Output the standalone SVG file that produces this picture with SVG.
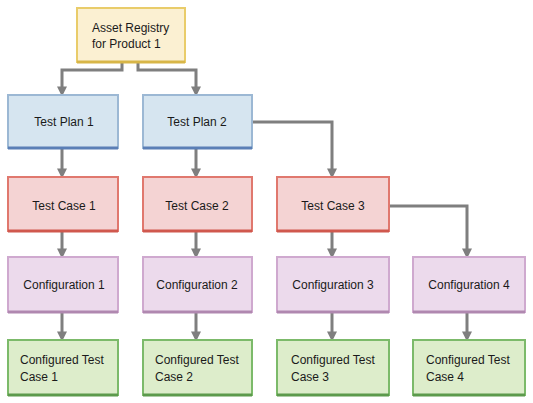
<svg xmlns="http://www.w3.org/2000/svg" width="533" height="403" viewBox="0 0 533 403">
<style>
text{font-family:"Liberation Sans",Arial,sans-serif;font-size:12px;fill:#1a1a1a}
.c{text-anchor:middle}
.box{stroke-width:2}
.ar rect{fill:#fbf0d2;stroke:#e9cc6a}
.tp rect{fill:#d6e5f0;stroke:#9cb8d4}
.tc rect{fill:#f4d3d3;stroke:#e0786e}
.cf rect{fill:#ecdaec;stroke:#cfa9cf}
.ct rect{fill:#ddedcb;stroke:#7cba6a}
.ar line{stroke:#d8b648}
.tp line{stroke:#5b7fb6}
.tc line{stroke:#d0584e}
.cf line{stroke:#b088b0}
.ct line{stroke:#5c9a4c}
line.b{stroke-width:3}
.con path{fill:none;stroke:#7f7f7f;stroke-width:3}
</style>
<defs>
<marker id="ah" markerWidth="3.4" markerHeight="3.4" refX="2.2" refY="1.7" orient="auto" markerUnits="strokeWidth">
<path d="M0,0 L3.4,1.7 L0,3.4 Z" fill="#7f7f7f"/>
</marker>
</defs>
<rect width="533" height="403" fill="#ffffff"/>
<g class="con">
<path d="M122,63 V70 H62 V93" marker-end="url(#ah)"/>
<path d="M138,63 V70 H196 V93" marker-end="url(#ah)"/>
<path d="M252,122 H332 V175" marker-end="url(#ah)"/>
<path d="M62,149 V175" marker-end="url(#ah)"/>
<path d="M196,149 V175" marker-end="url(#ah)"/>
<path d="M62,232 V255" marker-end="url(#ah)"/>
<path d="M196,232 V255" marker-end="url(#ah)"/>
<path d="M332,232 V255" marker-end="url(#ah)"/>
<path d="M389,206 H467 V255" marker-end="url(#ah)"/>
<path d="M62,313 V338" marker-end="url(#ah)"/>
<path d="M196,313 V338" marker-end="url(#ah)"/>
<path d="M332,313 V338" marker-end="url(#ah)"/>
<path d="M467,313 V338" marker-end="url(#ah)"/>
</g>
<g id="asset" class="ar"><rect class="box" x="77" y="8" width="108" height="54"/><line class="b" x1="77" y1="62" x2="185" y2="62"/><text x="92" y="32">Asset Registry</text><text x="92" y="48">for Product 1</text></g>
<g id="tp1" class="tp"><rect class="box" x="8" y="95" width="110" height="53"/><line class="b" x1="8" y1="148" x2="118" y2="148"/><text class="c" x="64" y="126">Test Plan 1</text></g>
<g id="tp2" class="tp"><rect class="box" x="143" y="95" width="109" height="53"/><line class="b" x1="143" y1="148" x2="252" y2="148"/><text class="c" x="197" y="126">Test Plan 2</text></g>
<g id="tc1" class="tc"><rect class="box" x="8" y="177" width="110" height="54"/><line class="b" x1="8" y1="231" x2="118" y2="231"/><text class="c" x="64" y="210">Test Case 1</text></g>
<g id="tc2" class="tc"><rect class="box" x="143" y="177" width="109" height="54"/><line class="b" x1="143" y1="231" x2="252" y2="231"/><text class="c" x="197" y="210">Test Case 2</text></g>
<g id="tc3" class="tc"><rect class="box" x="277" y="177" width="112" height="54"/><line class="b" x1="277" y1="231" x2="389" y2="231"/><text class="c" x="333" y="210">Test Case 3</text></g>
<g id="cf1" class="cf"><rect class="box" x="8" y="257" width="110" height="55"/><line class="b" x1="8" y1="312" x2="118" y2="312"/><text class="c" x="64" y="289">Configuration 1</text></g>
<g id="cf2" class="cf"><rect class="box" x="143" y="257" width="109" height="55"/><line class="b" x1="143" y1="312" x2="252" y2="312"/><text class="c" x="197" y="289">Configuration 2</text></g>
<g id="cf3" class="cf"><rect class="box" x="277" y="257" width="112" height="55"/><line class="b" x1="277" y1="312" x2="389" y2="312"/><text class="c" x="333" y="289">Configuration 3</text></g>
<g id="cf4" class="cf"><rect class="box" x="413" y="257" width="112" height="55"/><line class="b" x1="413" y1="312" x2="525" y2="312"/><text class="c" x="469" y="289">Configuration 4</text></g>
<g id="ct1" class="ct"><rect class="box" x="8" y="340" width="110" height="55"/><line class="b" x1="8" y1="395" x2="118" y2="395"/><text x="20" y="364">Configured Test</text><text x="20" y="381">Case 1</text></g>
<g id="ct2" class="ct"><rect class="box" x="143" y="340" width="109" height="55"/><line class="b" x1="143" y1="395" x2="252" y2="395"/><text x="155" y="364">Configured Test</text><text x="155" y="381">Case 2</text></g>
<g id="ct3" class="ct"><rect class="box" x="277" y="340" width="112" height="55"/><line class="b" x1="277" y1="395" x2="389" y2="395"/><text x="291" y="364">Configured Test</text><text x="291" y="381">Case 3</text></g>
<g id="ct4" class="ct"><rect class="box" x="413" y="340" width="112" height="55"/><line class="b" x1="413" y1="395" x2="525" y2="395"/><text x="426" y="364">Configured Test</text><text x="426" y="381">Case 4</text></g>
</svg>
